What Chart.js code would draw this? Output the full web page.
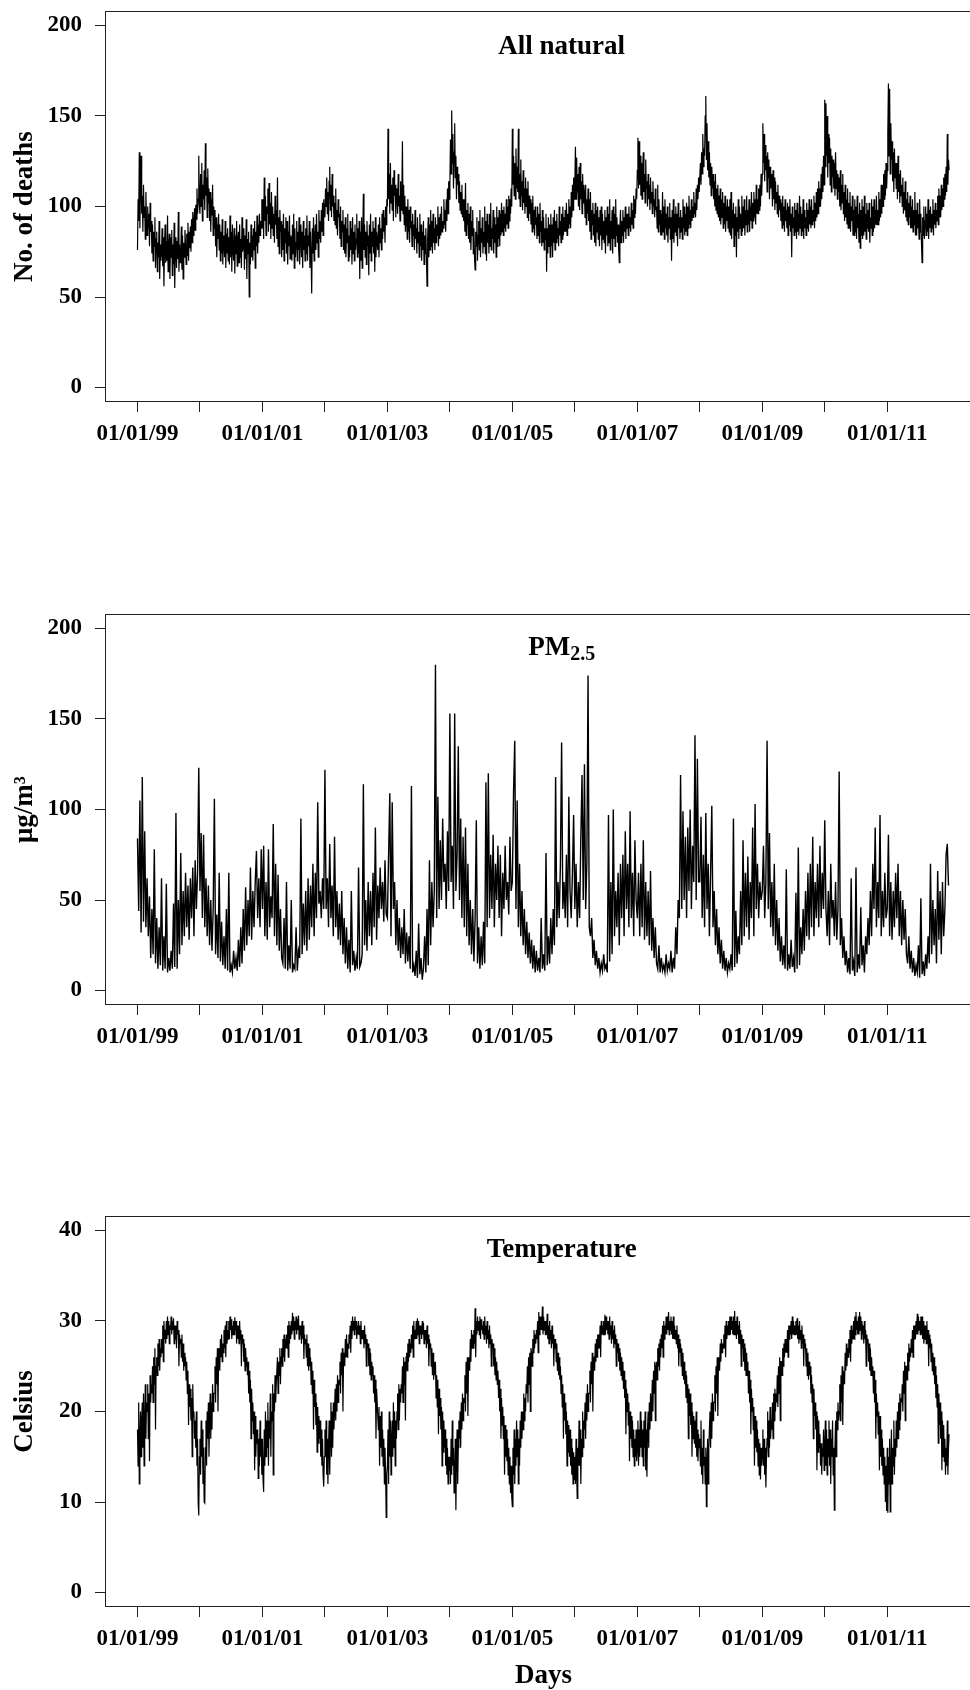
<!DOCTYPE html>
<html>
<head>
<meta charset="utf-8">
<script src="https://cdn.jsdelivr.net/npm/chart.js@4.4.1/dist/chart.umd.min.js"></script>
<style>
html,body{margin:0;padding:0;background:#fff;overflow:hidden;width:970px;height:1690px;position:relative;}
.panel{position:absolute;left:0;}
</style>
</head>
<body>
<div class="panel" style="top:0px"><canvas id="c1" width="1000" height="603"></canvas></div>
<div class="panel" style="top:603px"><canvas id="c2" width="1000" height="602"></canvas></div>
<div class="panel" style="top:1205px"><canvas id="c3" width="1000" height="490"></canvas></div>
<script>
// ---- time base: readings start 01/01/1999, evenly spaced within each year ----
const startYear = 1999;
const deathsPerYear = 104;   // twice-weekly readings
const pmPerYear = 52;        // weekly readings
const tempPerYear = 104;     // twice-weekly readings
const yearTicks = [1999,2000,2001,2002,2003,2004,2005,2006,2007,2008,2009,2010,2011];
const yearTickLabels = ['01/01/99','','01/01/01','','01/01/03','','01/01/05','','01/01/07','','01/01/09','','01/01/11'];

// ---- All natural deaths (No. of deaths), 13 rows of 8 per year ----
const deaths = [
// 1999
76,104,92,130,88,110,128,96, 106,86,112,94,100,82,108,92, 84,100,88,96,78,102,86,92, 74,90,70,86,78,94,66,82,
86,64,80,72,92,60,79,70, 75,88,67,83,56,78,90,69, 81,70,95,64,77,85,60,83, 72,87,62,79,68,91,55,77,
83,66,81,71,97,64,79,69, 74,89,65,84,60,80,72,87, 79,68,85,73,91,70,86,77, 89,75,93,80,97,84,91,99,
87,101,93,110,96,104,128,101,
// 2000
96,118,100,124,92,112,104,120, 98,135,106,116,94,121,102,110, 92,108,86,104,95,112,84,100, 88,98,78,94,72,90,82,96,
76,90,70,86,74,93,68,84, 80,72,92,66,85,74,88,70, 83,68,95,72,86,64,90,76, 70,88,63,84,74,92,67,81,
86,69,90,72,82,66,94,75, 79,88,65,84,71,93,60,82, 74,86,50,80,68,90,72,84, 70,88,76,92,66,86,78,95,
74,90,80,96,84,92,88,104,
// 2001
88,104,82,116,92,106,84,100, 96,110,86,113,90,102,82,108, 88,100,84,96,80,106,90,98, 82,116,78,94,74,98,86,92,
72,90,76,96,70,88,80,94, 74,92,68,86,78,95,71,84, 82,70,90,74,96,66,88,72, 80,92,70,86,76,94,68,84,
90,72,86,66,92,76,84,70, 88,74,95,70,84,78,92,66, 86,72,52,88,74,94,70,82, 90,76,96,80,86,72,98,82,
92,80,98,86,102,84,104,96,
// 2002
94,110,100,116,96,108,92,114, 122,98,112,94,118,100,106,92, 102,90,110,88,98,84,104,94, 96,82,100,78,92,86,98,76,
90,74,94,72,88,80,96,70, 84,72,92,76,88,68,94,74, 86,70,90,76,82,96,72,88, 74,92,60,86,70,94,66,84,
107,76,90,72,86,68,92,78, 84,62,90,74,96,70,86,78, 92,74,88,64,94,72,86,80, 76,90,72,94,80,88,76,96,
82,98,86,94,80,100,90,104,
// 2003
100,143,104,118,96,124,102,112, 98,116,92,120,106,112,94,108, 110,96,118,100,106,92,114,98, 104,136,96,112,90,106,86,100,
94,82,104,86,98,80,100,88, 92,78,96,84,90,76,98,82, 88,74,94,80,86,72,96,78, 90,70,86,76,92,68,84,74,
88,70,56,82,94,72,90,76, 98,78,92,74,96,80,88,76, 94,80,90,84,100,78,94,82, 96,84,100,86,92,88,104,90,
98,86,104,92,110,96,114,104,
// 2004
112,137,118,153,124,140,110,130, 146,116,128,104,122,112,118,102, 114,98,108,96,112,94,104,92, 104,86,113,84,98,90,102,82,
96,80,100,76,92,84,98,74, 88,72,65,86,78,94,70,84, 92,76,98,72,88,80,94,74, 86,78,100,74,92,70,96,80,
90,74,96,78,102,76,88,82, 98,74,94,80,90,72,100,78, 94,82,98,78,96,84,102,86, 98,84,100,88,96,86,104,90,
100,88,106,92,104,96,110,100,
// 2005
143,112,128,106,124,104,132,110, 122,108,143,104,118,100,126,106, 114,98,120,102,110,96,116,100, 110,94,114,92,106,96,104,90,
102,86,106,88,98,84,100,90, 94,82,100,84,96,80,102,86, 92,78,98,80,94,76,88,82, 96,64,88,74,94,78,90,72,
96,78,90,72,94,80,98,76, 92,80,96,82,88,78,100,84, 92,80,96,82,100,84,94,86, 98,86,102,84,96,88,104,90,
100,88,108,94,112,98,116,104,
// 2006
112,133,104,127,108,118,100,122, 98,124,104,114,96,118,102,112, 108,94,112,90,104,96,110,92, 104,86,108,82,98,90,102,84,
96,80,102,78,98,86,100,82, 94,78,98,84,100,76,96,82, 92,80,98,74,94,84,100,78, 96,80,104,76,92,82,98,74,
100,82,96,78,104,84,94,80, 90,76,69,88,98,80,92,84, 98,80,94,86,100,82,96,88, 96,84,100,88,94,86,102,90,
98,88,106,94,104,96,110,104,
// 2007
120,138,110,136,112,128,106,124, 104,122,130,108,118,102,126,110, 114,100,118,104,112,98,116,102, 108,96,114,100,104,94,110,98,
100,88,112,86,104,90,98,84, 96,84,108,86,100,82,104,88, 96,84,100,80,94,88,102,82, 94,70,98,82,104,80,96,86,
100,84,96,78,102,88,94,82, 98,86,94,82,104,88,100,84, 96,86,102,84,100,88,106,90, 98,88,104,92,100,94,108,96,
102,94,110,98,112,104,116,108,
// 2008
108,124,112,130,118,140,122,132, 128,150,161,126,146,120,136,116, 130,112,124,106,122,110,118,104, 114,100,118,98,110,96,112,94,
106,92,110,90,104,94,108,88, 102,90,106,86,100,92,104,88, 100,86,104,84,108,82,98,88, 102,78,96,84,100,72,94,86,
104,82,100,88,96,84,106,86, 100,88,104,84,98,90,106,86, 98,90,104,86,100,92,108,88, 102,92,108,94,104,90,112,96,
104,96,110,98,112,100,118,106,
// 2009
118,146,124,140,114,134,120,128, 108,130,116,126,104,122,110,118, 112,100,120,104,116,98,114,102, 108,96,112,94,106,98,104,92,
102,88,106,90,100,86,104,92, 98,88,102,84,100,90,104,86, 96,72,100,88,94,84,102,86, 98,82,102,86,96,84,106,88,
100,84,96,86,104,82,98,88, 94,84,102,88,98,86,104,90, 100,88,104,90,98,92,106,88, 102,92,108,94,110,96,114,100,
110,100,118,104,122,108,128,112,
// 2010
159,122,157,128,150,116,140,124, 138,112,132,108,128,116,126,110, 124,106,130,110,120,104,118,108, 116,100,120,98,112,102,118,96,
108,92,112,94,104,90,110,88, 102,88,108,86,100,92,106,84, 98,84,104,86,100,82,106,88, 96,80,102,77,98,84,104,82,
100,84,106,86,96,82,102,88, 98,86,102,80,94,88,104,84, 100,86,104,88,98,90,106,90, 98,90,108,92,104,94,112,96,
112,100,118,104,120,106,124,110,
// 2011
120,140,168,128,165,118,146,126, 136,114,130,108,132,116,124,110, 124,104,128,108,118,102,120,106, 112,100,116,96,108,98,114,94,
104,92,108,90,102,94,106,88, 100,88,104,86,98,90,108,84, 98,84,102,88,96,82,104,86, 96,80,69,94,84,100,82,92,
100,84,96,86,104,82,98,88, 100,86,96,88,104,84,98,90, 102,88,98,92,106,90,110,94, 106,94,112,98,110,100,116,104,
118,106,122,108,140,112,126,120
];

// ---- PM2.5 (µg/m3), weekly ----
const pm25 = [
// 1999
84,44,105,32,118,38,88,35, 62,30,52,18,45, 20,78,15,40, 12,35,14,62,11, 30,12,59,10, 18,11,22,12, 48,13,98,12,50, 20,76,25,55, 30,65,35,58, 28,62,40,68,30, 72,45,65,123,
// 2000
55,87,40,86,35,62,30,58, 25,50,22,45,106, 20,42,18,65, 16,38,14,30,12, 45,11,65,10, 14,10,22,12, 18,11,28,13,35, 15,45,22,57, 25,50,30,68, 28,55,35,60,77, 40,62,35,78,
// 2001
45,80,30,60,28,78,35,52, 40,92,30,70,25, 64,22,45,18, 15,40,12,60,11, 25,12,50,10, 14,12,35,11, 22,18,95,20,48, 25,55,22,62, 28,58,35,70, 30,65,40,104,48, 55,40,62,45,
// 2002
122,45,62,35,81,40,58,30, 85,35,55,28,48, 25,55,20,40, 15,35,12,28,10, 55,14,22,11, 18,12,68,13, 15,20,114,25,50, 22,60,30,55, 25,65,35,90, 28,58,40,68,45, 60,38,72,42,
// 2003
40,75,109,30,104,45,60,25, 50,22,40,18,35, 20,45,15,32, 16,30,12,113,10, 14,8,22,7, 37,9,18,6, 12,30,10,45,14, 72,25,60,35, 55,180,40,107, 45,83,50,95,60, 70,45,88,55,
// 2004
153,60,80,45,153,55,75,135, 50,95,40,85,35, 90,30,70,25, 50,20,45,16,40, 94,15,35,12, 30,14,38,15, 115,35,120,40,75, 45,86,35,70, 50,80,40,75, 30,65,45,80,50, 60,42,85,55,
// 2005
60,110,138,45,105,35,70,30, 55,25,45,20,38, 18,32,15,28, 12,25,10,22,11, 18,10,40,12, 20,11,76,14, 30,15,40,20,45, 25,118,35,60, 40,70,137,45, 60,40,75,35,107, 55,40,65,97,
// 2006
45,70,35,60,40,85,119,50, 125,45,70,174,35, 30,40,18,28, 14,22,12,18,10, 15,11,20,12, 14,10,97,16, 60,20,100,30,55, 35,65,25,70, 40,75,30,88, 45,70,35,99,40, 65,30,83,50,
// 2007
40,65,30,70,35,83,28,60, 30,55,25,66,22, 40,18,35,15, 12,25,10,18,11, 14,10,20,11, 15,12,22,10, 18,12,35,20,50, 40,119,45,99, 50,85,40,90, 55,100,45,80,60, 141,50,128,60,
// 2008
60,96,40,75,35,98,45,70, 30,65,102,35,55, 25,45,20,35, 15,28,12,22,11, 18,10,15,12, 20,11,95,13, 44,15,30,20,55, 25,83,30,65, 35,74,28,60, 40,90,30,103,45, 70,40,60,50,
// 2009
55,80,40,60,138,45,87,35, 60,30,70,25,50, 22,40,16,30, 14,25,12,67,11, 20,12,28,13, 18,10,54,12, 79,14,35,20,45, 22,55,30,65, 28,70,35,85, 30,60,40,70,35, 80,40,65,45,
// 2010
94,45,30,55,25,70,40,50, 30,60,28,45,121, 25,40,18,30, 14,22,10,18,9, 62,11,16,8, 68,10,20,12, 46,14,25,10,30, 20,40,25,55, 30,70,45,90, 35,60,40,97,30, 55,35,65,40,
// 2011
45,86,30,60,28,55,35,65, 40,70,30,55,25, 50,28,45,20, 15,30,12,22,10, 18,8,14,10, 25,7,51,9, 16,8,20,12,30, 15,70,20,50, 25,45,15,66, 28,55,20,60,30, 45,75,81,58
];

// ---- Temperature (Celsius), 13 rows of 8 per year ----
const temp = [
// 1999
18,14,21,12,17,20,15,19, 21,16,22,14,19,23,17,21, 20,23,17,22,14.5,24,21,23, 22,25,21,26,23,27,18,25,
26,24,27.5,25,28,24.5,27,26, 28,26.5,29.5,25.5,30,28,29,27.5, 30,28,30.5,28.5,30,27.5,29.5,29, 30.5,28.5,30,29,30.3,27.5,29.5,28,
29.5,27,30,28.5,29,25,28.5,27.5, 28,26,28.5,25.5,27.5,24.5,26.5,25, 26,23.5,25.5,22,24.5,18.5,23,20.5, 22.5,19,21.5,15,23,19.5,20,17,
19,16,20,14,17,10,8.5,15,
// 2000
17,13,19,15,18,12,16,10, 9.9,16,19,14,20,17,21,15, 19,22,17,21,18,23,20,22, 22,25,21,26,23,27,20,26,
27,24.5,28,26,28.5,25.5,27.5,26.5, 29,27,29.5,26,30,27.5,29,28, 30,28,30.5,29,30.2,28,29.5,28.5, 30,28.5,30.4,29,30,27.5,29.5,28,
29.5,27.5,30,28,29,25,28.5,27.5, 28,25.5,27.5,24.5,27,25,26,24, 25.5,22,24.5,21,23.5,17,22.5,19, 21,17.5,20,13.5,19.5,15,18,16.5,
18,12.6,17,14,19,15,17,13,
// 2001
17,12.5,11.1,18,14,20,15,19, 16,21,14,19,17,22,15,20, 19,23,13,22,20,24,21,23, 23,26,22,25.5,24,27,23,26,
27,25,28,26,28.5,25.5,28,27, 28.5,27,29.5,26,30,27.5,29.5,28, 30,28.5,30.9,29,30.5,28,30,29, 30.5,28.5,30.2,29,30.6,28,29.5,28.5,
29.5,27.5,30,28,29.5,25.8,28.5,27.5, 28,26,28.5,25,27.5,24.5,27,25, 26,23,25.5,22,24.5,18,23.5,20.5, 22,18.5,21,15.5,20.5,16.5,19.5,17,
19,15,18,14,17,13,11.7,15,
// 2002
18,15,19,13,17,12,16,19, 13,17,21,15,20,16,21,18, 20,22.5,19,23,20,24,21,23.5, 23,25.5,22,26.5,24,27,20,26,
26.5,25,28,26,28.5,26,27.5,27, 28.5,27.5,29.5,26.5,30,28,30.5,29, 30,28.5,30.5,29,30,28,29.5,28.5, 30,28.5,29.5,27.5,30,28,29,28,
29,27,29.5,27.5,28.5,25,28,27, 27.5,25,27,24,26.5,23.5,25.5,24, 25,22,24,21,23.5,17,22.5,21, 21,18,20.5,14,19.5,16,20,15,
18,14,17,12,16,13,8.3,13,
// 2003
14,18,12,20,15,19,13,17, 19,15,21,16,20,14,19,17, 20,22,18,23,19,22.5,21,23, 22,25,21,26,23,25.5,19,26,
26.5,24.5,27.5,25.5,28,26,27.5,26.5, 28.5,27,29.5,26,30,28,29,28, 30,28,30.3,28.5,30,27.5,29.5,28.5, 29.5,28,30,28.5,29.8,27.5,29,28,
29,27,29.5,27.5,28.5,25,28,27, 27.5,25,27,24,26.5,23.5,25.5,24, 25.5,21.5,24,20.5,23.5,17.5,22.5,19.5, 21.5,18,20.5,14,20,15.5,19,16,
18,14,17,13,16,12,15,13.5,
// 2004
15,12,17,13,19,14,16,11, 13,17,9.1,15,18,12,16,19, 17,20,16,21,18,22,19,21.5, 21,24,20,25.5,22,26,19.5,25,
26,24.5,28,25.5,29,27,28.5,27, 29,27.5,31.4,26,30,28.5,30.5,29, 30,28.5,30.5,28,30.2,29,29.5,28.5, 30,28,30.5,28.5,29.5,27.5,30,28,
29,27,29.5,27.5,28.5,25,28,27, 27.5,25,27,24,26,23.5,25.5,23, 24.5,21.5,23.5,20,22.5,17,21.5,18.5, 20.5,17,19.5,13,18.5,15,18,14.5,
17,13,16,12,15,11,14,10.5,
// 2005
9.5,16,13,18,12,17,14,19, 15,18,12,17,14,19,16,20, 17,20,18,22,19,21.5,20,23, 22,25,21,26,23,26.5,20,27,
26.5,25,28,26.5,29,27,28.5,27.5, 29,28,30,26.5,31,28.5,30.5,29, 30.5,29,31.6,28.5,30.5,29,30,28.5, 30,28.5,30.8,28,29.5,27.5,30,28,
29,27,29.5,27.5,28.5,25,28,27, 28,25.5,27.5,24.5,26.5,24,26,23.5, 25,22,24,20.5,23,17,22,19, 21,17.5,20,14,19,15.5,18.5,15,
18,14,17,13,16,12,15.5,12.5,
// 2006
15,12,17,13,10.4,16,14,19, 14,18,12,17,15,20,16,19, 18,21,17,22,19,23,20,22, 22,24.5,21,25.5,23,26.5,20,26,
26,24.5,27.5,25.5,28,26,28.5,27, 28.5,27,29.5,26,30,28.5,29.5,28.5, 30,28.5,30.7,28.5,30.5,29,30,28.5, 30,28,30.5,28.5,29.5,27.5,30,28,
29,27,29.5,27.5,28.5,25,28,26.5, 27.5,25.5,27,24.5,26.5,24,26,23.5, 25.5,22.5,24.5,21.5,23.5,17.5,22.5,20, 22,18.5,21,14.5,20,17,19.5,16,
19,15,18,14,17,15,18,14.5,
// 2007
16,19,14,18,15,20,16,19, 15,18,14,19,16,20,13.5,18, 12.8,18,20,16,21,18,22,19, 21,23.5,20,24.5,22,25.5,19,25,
25.5,23.5,27,25,27.5,24.5,28,26, 28.5,27,29.5,26,30,28,29.5,28.5, 30.5,28.5,30.5,29,31,28.5,30,29, 30.5,28.5,30,28,30.5,28,29.5,28,
29,27.5,29.5,27,28.5,25,28,26.5, 27.5,25,27,24,26.5,23.5,25.5,23, 24.5,21.5,24,21,23,17,22.5,19.5, 22,18.5,21,15,20,17,19.5,16.5,
19,16,20,15,18,14.5,17.5,16,
// 2008
17,14,19,13,16,12,18,14, 15,12,16,9.5,14,17,12,16, 18,20,16,21,17,22,19,21, 21,24,20,25,22,26,19.5,25,
26,24.5,27.5,25.5,28,26.5,27.5,27, 28.5,27,29.5,26,30,28,29.5,28.5, 30,28.5,30.5,28.5,30.5,29,30,28.5, 30.5,28.5,31.1,28.5,30,28,30.5,28.5,
29.5,27.5,30,27.5,29,25,28.5,27, 28,25.5,27.5,24.5,27,24,26.5,24, 25.5,22,24.5,21,23.5,17.5,22.5,20, 21.5,18,20.5,14,19.5,16,19,15.5,
18,14,17,13,16.5,12.5,16,14,
// 2009
15,18,14,17,13,16,11.6,15, 17,20,15,19,16,20.5,17,19, 18,21,17,22,19,22.5,20,22, 21,24,20.5,25,22,26,19,25.5,
25.5,24,27,25,27.5,26,28,26.5, 28,26.5,29,26,29.5,28,29.5,28.5, 30,28,30.5,28.5,30,28.5,29.5,28.5, 30,28.5,30.3,28,29.5,27.5,30,28,
29,27,29.5,27.5,28.5,25,28,27, 27.5,25,27,24,26.5,23.5,25.5,24, 25,22,24,21,23,17,22.5,19.5, 21,18,20,13.5,19.5,15.5,19,16,
17.5,14,16.5,13,16,15,18,13.5,
// 2010
16,19,14,18,13,17,15,19, 14,18,12,17,15,19,13,16, 9.1,16,19,15,20,18,21,19, 20,23,19,24,21,25,18.5,24.5,
24.5,23,26.5,24.5,27.5,25,27,26, 28,26.5,29,25.5,29.5,27.5,29,28, 30,28,30.5,28.5,31,29,30,28.5, 30.5,28.5,31,29,30.5,28,30,28.5,
29.5,27.5,30,28,29,25,28.5,27.5, 28,25.5,27.5,24.5,27,24,26,24, 25,22,24.5,21,23.5,17,22,19.5, 21,17.5,20,13.5,19.5,15,18,14,
17,13,16,12,15,10,14,9,
// 2011
16,8.8,15,12,17,8.9,14,18, 12,16,14,19,13,17,15,19, 16,20,17,21,18,22,19,21.5, 21,23,20,24.5,22,25.5,19,25,
25,23.5,26.5,24.5,27.5,25.5,27,26, 28,26.5,29,26,29.5,28,29.5,28, 30,28.5,30.8,28.5,30.5,29,30,28.5, 30.5,28.5,30.5,28,30,27.5,29.5,28,
29.5,27.5,30,27.5,29,25,28.5,27, 28,25.5,27.5,24.5,26.5,24,26,23, 25,21.5,24,20.5,23,16.5,22,18.5, 21,17,20,13.5,19,15,18.5,14.5,
17,13,16,14,19,13,16,17.5
];

const deathTicks = [0,50,100,150,200];
const pmTicks = [0,50,100,150,200];
const tempTicks = [0,10,20,30,40];

// ---- drawing ----
const FONT = "'Liberation Serif', 'Times New Roman', serif";
Chart.defaults.font.family = FONT;
Chart.defaults.color = '#000';

const framePlugin = {
  id: 'frame',
  afterDraw(chart) {
    const {ctx, chartArea: a} = chart;
    ctx.save();
    ctx.strokeStyle = '#222';
    ctx.lineWidth = 1;
    ctx.strokeRect(Math.round(a.left) + 0.5, Math.round(a.top) + 0.5,
                   Math.round(a.right - a.left) - 1, Math.round(a.bottom - a.top) - 1);
    ctx.restore();
  }
};

const panelTitlePlugin = {
  id: 'panelTitle',
  afterDraw(chart, args, opts) {
    if (!opts || !opts.text) return;
    const {ctx, scales: {x, y}} = chart;
    const cx = x.getPixelForValue(opts.xValue);
    const by = y.getPixelForValue(opts.yValue);
    const big = 'bold 27px ' + FONT;
    const small = 'bold 20px ' + FONT;
    ctx.save();
    ctx.fillStyle = '#000';
    ctx.textBaseline = 'alphabetic';
    ctx.textAlign = 'left';
    ctx.font = big;
    const w1 = ctx.measureText(opts.text).width;
    let w2 = 0;
    if (opts.sub) { ctx.font = small; w2 = ctx.measureText(opts.sub).width; }
    const x0 = cx - (w1 + w2) / 2;
    ctx.font = big;
    ctx.fillText(opts.text, x0, by);
    if (opts.sub) { ctx.font = small; ctx.fillText(opts.sub, x0 + w1, by + 5); }
    ctx.restore();
  }
};

function makeChart(id, values, perYear, lineW, yTicks, yMin, yMax, yTitle, xTitle, title, titleSub, titleY) {
  const canvas = document.getElementById(id);
  const H = canvas.height;
  const pts = values.map((v, i) => ({x: startYear + i / perYear, y: v}));
  return new Chart(canvas, {
    type: 'line',
    data: {datasets: [{data: pts, borderColor: '#000', borderWidth: lineW, pointRadius: 0, tension: 0, fill: false}]},
    options: {
      responsive: false,
      animation: false,
      events: [],
      layout: {padding: {top: 11, right: 18, left: 0, bottom: 0}},
      plugins: {
        legend: {display: false},
        tooltip: {enabled: false},
        panelTitle: {text: title, sub: titleSub, xValue: 2005.79, yValue: titleY}
      },
      scales: {
        x: {
          type: 'linear',
          min: 1998.48, max: 2012.517,
          afterBuildTicks: s => { s.ticks = yearTicks.map(v => ({value: v})); },
          afterFit: s => { s.height = H - 402; s.paddingLeft = 0; s.paddingRight = 0; s.paddingTop = 0; s.paddingBottom = 0; },
          ticks: {
            autoSkip: false, maxRotation: 0, minRotation: 0, padding: 8,
            color: '#000', font: {size: 23, weight: 'bold'},
            callback: (v, i) => yearTickLabels[i]
          },
          grid: {drawOnChartArea: false, drawTicks: true, tickLength: 10, color: '#222', lineWidth: 1},
          border: {display: false},
          title: {display: !!xTitle, text: xTitle || '', color: '#000', font: {size: 27, weight: 'bold'}, padding: {top: 0, bottom: 3}}
        },
        y: {
          type: 'linear',
          min: yMin, max: yMax,
          afterBuildTicks: s => { s.ticks = yTicks.map(v => ({value: v})); },
          afterFit: s => { s.width = 105; s.paddingTop = 0; s.paddingBottom = 0; s.paddingLeft = 0; s.paddingRight = 0; },
          ticks: {padding: 13, color: '#000', font: {size: 23, weight: 'bold'}, callback: v => String(v)},
          grid: {drawOnChartArea: false, drawTicks: true, tickLength: 10, color: '#222', lineWidth: 1},
          border: {display: false},
          title: {display: true, text: yTitle, color: '#000', font: {size: 27, weight: 'bold'}, padding: {top: 9, bottom: 0}}
        }
      }
    },
    plugins: [framePlugin, panelTitlePlugin]
  });
}

makeChart('c1', deaths, deathsPerYear, 1.2, deathTicks, -8, 208, 'No. of deaths', null, 'All natural', null, 184.5);
makeChart('c2', pm25, pmPerYear, 1.4, pmTicks, -8, 208, 'μg/m³', null, 'PM', '2.5', 185.6);
makeChart('c3', temp, tempPerYear, 1.2, tempTicks, -1.6, 41.6, 'Celsius', 'Days', 'Temperature', null, 37.1);
</script>
</body>
</html>
